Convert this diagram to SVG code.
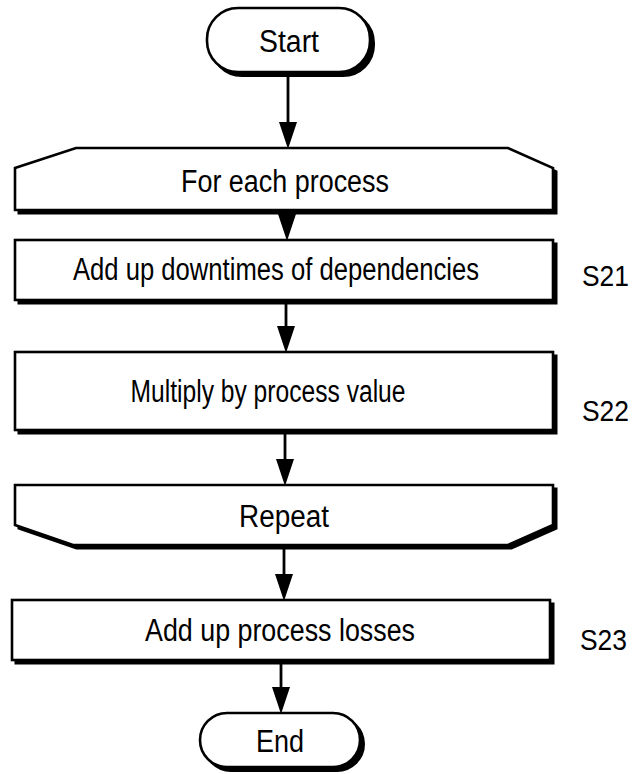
<svg xmlns="http://www.w3.org/2000/svg" width="639" height="774" viewBox="0 0 639 774">
<defs>
<style>
.sh{fill:#000;stroke:#000;stroke-width:2}
.bx{fill:#fff;stroke:#000;stroke-width:2.6}
.t{font-family:"Liberation Sans",Arial,sans-serif;font-size:31px;fill:#000;text-anchor:middle}
.lb{font-family:"Liberation Sans",Arial,sans-serif;font-size:30px;fill:#000}
.cn{stroke:#000;stroke-width:2.8;fill:none}
.hd{fill:#000;stroke:none}
</style>
</defs>
<rect width="639" height="774" fill="#fff"/>
<g id="connectors">
<line class="cn" x1="288" y1="74" x2="288" y2="126"/>
<path class="hd" d="M279,122 L297,122 L288,149 Z"/>
<line class="cn" x1="287" y1="212" x2="287" y2="218"/>
<path class="hd" d="M278,214 L296,214 L287,241 Z"/>
<line class="cn" x1="286" y1="302" x2="286" y2="330"/>
<path class="hd" d="M277,326 L295,326 L286,353 Z"/>
<line class="cn" x1="285" y1="432" x2="285" y2="463"/>
<path class="hd" d="M276,459 L294,459 L285,486 Z"/>
<line class="cn" x1="284" y1="547" x2="284" y2="578"/>
<path class="hd" d="M275,574 L293,574 L284,601 Z"/>
<line class="cn" x1="281" y1="662" x2="281" y2="691"/>
<path class="hd" d="M272,687 L290,687 L281,714 Z"/>
</g>
<g id="start">
<rect class="sh" x="211" y="12" width="163" height="64" rx="31"/>
<rect class="bx" x="207" y="8" width="163" height="64" rx="31"/>
<text class="t" x="289" y="52" textLength="60" lengthAdjust="spacingAndGlyphs">Start</text>
</g>
<g id="loop-start">
<path class="sh" transform="translate(3.5,3.5)" d="M76,148 L508,148 L553,168 L553,210 L15,210 L15,168 Z"/>
<path class="bx" d="M76,148 L508,148 L553,168 L553,210 L15,210 L15,168 Z"/>
<text class="t" x="285" y="192" textLength="208" lengthAdjust="spacingAndGlyphs">For each process</text>
</g>
<g id="s21">
<rect class="sh" x="18.5" y="243.5" width="538" height="60"/>
<rect class="bx" x="15" y="240" width="538" height="60"/>
<text class="t" x="276" y="280" textLength="406" lengthAdjust="spacingAndGlyphs">Add up downtimes of dependencies</text>
<text class="lb" x="582" y="286" textLength="47" lengthAdjust="spacingAndGlyphs">S21</text>
</g>
<g id="s22">
<rect class="sh" x="18.5" y="355.5" width="538" height="78"/>
<rect class="bx" x="15" y="352" width="538" height="78"/>
<text class="t" x="268" y="402" textLength="275" lengthAdjust="spacingAndGlyphs">Multiply by process value</text>
<text class="lb" x="582" y="421" textLength="47" lengthAdjust="spacingAndGlyphs">S22</text>
</g>
<g id="loop-end">
<path class="sh" transform="translate(3.5,3.5)" d="M15,485 L553,485 L553,525 L508,545 L73,545 L15,525 Z"/>
<path class="bx" d="M15,485 L553,485 L553,525 L508,545 L73,545 L15,525 Z"/>
<text class="t" x="284" y="527" textLength="90" lengthAdjust="spacingAndGlyphs">Repeat</text>
</g>
<g id="s23">
<rect class="sh" x="15.5" y="603.5" width="538" height="60"/>
<rect class="bx" x="12" y="600" width="538" height="60"/>
<text class="t" x="280" y="641" textLength="270" lengthAdjust="spacingAndGlyphs">Add up process losses</text>
<text class="lb" x="580" y="650" textLength="47" lengthAdjust="spacingAndGlyphs">S23</text>
</g>
<g id="end">
<rect class="sh" x="204" y="717" width="160" height="54" rx="27"/>
<rect class="bx" x="200" y="713" width="160" height="54" rx="27"/>
<text class="t" x="280" y="752" textLength="48" lengthAdjust="spacingAndGlyphs">End</text>
</g>
</svg>
